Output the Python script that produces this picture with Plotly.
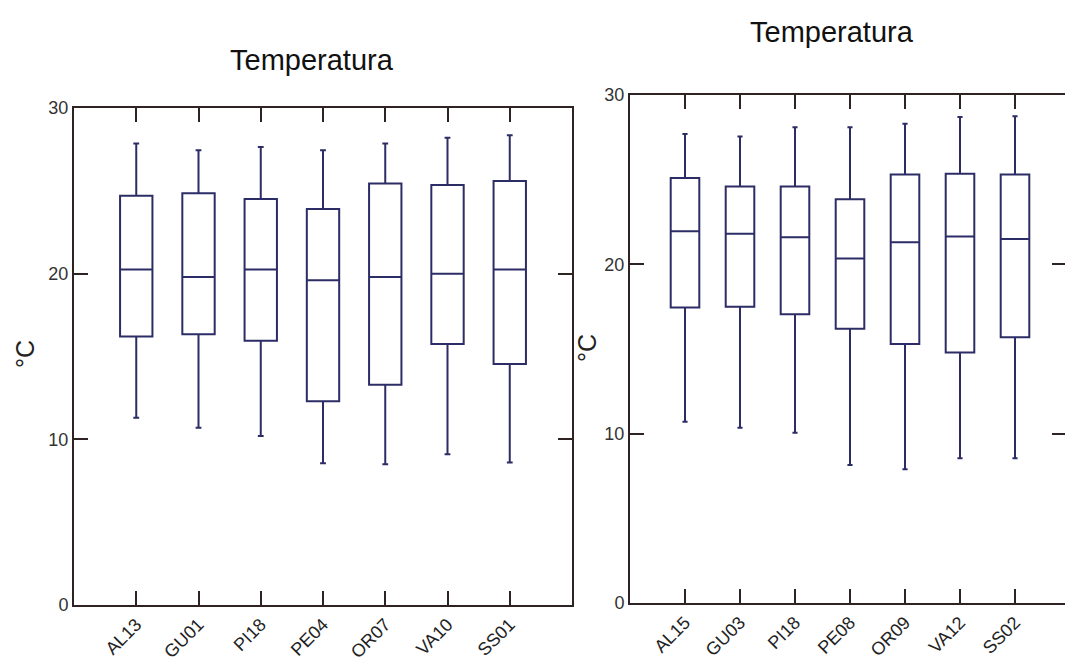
import plotly.graph_objects as go

# ---- data ----
cats_left = ["AL13", "GU01", "PI18", "PE04", "OR07", "VA10", "SS01"]
low_left = [11.3, 10.7, 10.2, 8.55, 8.5, 9.1, 8.6]
q1_left = [16.2, 16.35, 15.95, 12.3, 13.3, 15.75, 14.55]
med_left = [20.25, 19.8, 20.25, 19.6, 19.8, 20.0, 20.25]
q3_left = [24.7, 24.85, 24.5, 23.9, 25.45, 25.35, 25.6]
high_left = [27.85, 27.45, 27.65, 27.45, 27.85, 28.2, 28.35]

cats_right = ["AL15", "GU03", "PI18", "PE08", "OR09", "VA12", "SS02"]
low_right = [10.7, 10.35, 10.05, 8.15, 7.9, 8.55, 8.55]
q1_right = [17.45, 17.5, 17.05, 16.2, 15.3, 14.8, 15.7]
med_right = [21.95, 21.8, 21.6, 20.35, 21.3, 21.65, 21.5]
q3_right = [25.1, 24.6, 24.6, 23.85, 25.3, 25.35, 25.3]
high_right = [27.7, 27.55, 28.1, 28.1, 28.3, 28.7, 28.75]

y_ticks = [0, 10, 20, 30]
title_text = "Temperatura"
y_title = "°C"

BOX_COLOR = "#2c2c66"
AXIS_COLOR = "#2e2222"
FONT_FAMILY = "Liberation Sans, Arial, sans-serif"
X_TICK_FONT = dict(family=FONT_FAMILY, size=18, color="#222222")
Y_TICK_FONT = dict(family=FONT_FAMILY, size=18, color="#333333")

fig = go.Figure()

fig.add_trace(go.Box(
    x=cats_left, lowerfence=low_left, q1=q1_left, median=med_left, q3=q3_left,
    upperfence=high_left, xaxis="x", yaxis="y",
    width=0.52, whiskerwidth=0.18, boxpoints=False,
    line=dict(color=BOX_COLOR, width=2), fillcolor="rgba(0,0,0,0)",
    showlegend=False, hoverinfo="skip"))

fig.add_trace(go.Box(
    x=cats_right, lowerfence=low_right, q1=q1_right, median=med_right, q3=q3_right,
    upperfence=high_right, xaxis="x2", yaxis="y2",
    width=0.52, whiskerwidth=0.18, boxpoints=False,
    line=dict(color=BOX_COLOR, width=2), fillcolor="rgba(0,0,0,0)",
    showlegend=False, hoverinfo="skip"))

# empty trace to host the right-side tick axis of the right panel
fig.add_trace(go.Scatter(x=[], y=[], xaxis="x2", yaxis="y3", showlegend=False,
                         hoverinfo="skip"))

W, H = 1065, 663


def px_x(p):
    return p / W


def px_y(p):
    return 1 - p / H


common_x = dict(type="category", showline=True, linecolor=AXIS_COLOR, linewidth=2,
                ticks="inside", ticklen=14, tickwidth=2, tickcolor=AXIS_COLOR,
                tickangle=-45, tickfont=X_TICK_FONT, showgrid=False, zeroline=False,
                fixedrange=True, automargin=False)
common_y = dict(range=[0, 30], tickvals=y_ticks, showline=True, linecolor=AXIS_COLOR,
                linewidth=2, ticks="inside", ticklen=14, tickwidth=2, tickcolor=AXIS_COLOR,
                tickfont=Y_TICK_FONT, showgrid=False, zeroline=False,
                fixedrange=True, automargin=False)

fig.update_layout(
    width=W, height=H,
    autosize=False,
    showlegend=False,
    margin=dict(l=0, r=0, t=0, b=0, pad=0, autoexpand=False),
    paper_bgcolor="white", plot_bgcolor="white",
    xaxis=dict(common_x, domain=[px_x(74), px_x(572)], range=[-1, 7], anchor="y",
               mirror="ticks"),
    yaxis=dict(common_y, domain=[px_y(605), px_y(108)], anchor="x", mirror="ticks"),
    xaxis2=dict(common_x, domain=[px_x(630), 1.0], range=[-1, -1 + 435 / 55], anchor="y2",
                mirror="ticks"),
    yaxis2=dict(common_y, domain=[px_y(603), px_y(95)], anchor="x2", mirror=False),
    yaxis3=dict(range=[0, 30], tickvals=y_ticks, overlaying="y2", side="right",
                anchor="x2", showline=False, ticks="inside", ticklen=13, tickwidth=2,
                tickcolor=AXIS_COLOR, showticklabels=False, showgrid=False,
                zeroline=False, fixedrange=True, automargin=False),
    annotations=[
        dict(text=title_text, x=px_x(312), y=px_y(60), xref="paper", yref="paper",
             showarrow=False, xanchor="center", yanchor="middle",
             font=dict(family=FONT_FAMILY, size=29, color="#111")),
        dict(text=title_text, x=px_x(832), y=px_y(32), xref="paper", yref="paper",
             showarrow=False, xanchor="center", yanchor="middle",
             font=dict(family=FONT_FAMILY, size=29, color="#111")),
        dict(text=y_title, x=px_x(25), y=px_y(354), xref="paper", yref="paper",
             showarrow=False, xanchor="center", yanchor="middle", textangle=-90,
             font=dict(family=FONT_FAMILY, size=25, color="#222")),
        dict(text=y_title, x=px_x(587), y=px_y(348), xref="paper", yref="paper",
             showarrow=False, xanchor="center", yanchor="middle", textangle=-90,
             font=dict(family=FONT_FAMILY, size=25, color="#222")),
    ],
)

fig.write_html(
    "out.html",
    config=dict(displayModeBar=False),
    post_script="document.body.style.margin='0';document.body.style.overflow='hidden';",
)
